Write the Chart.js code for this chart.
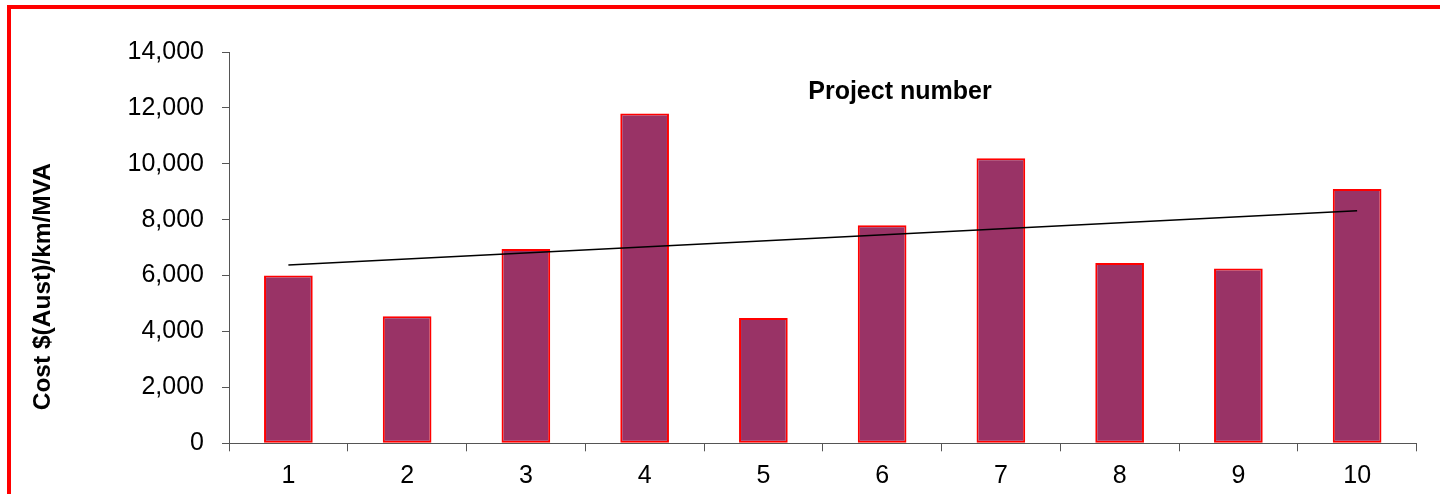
<!DOCTYPE html>
<html>
<head>
<meta charset="utf-8">
<title>Cost per project</title>
<script src="https://cdn.jsdelivr.net/npm/chart.js@4.4.1/dist/chart.umd.min.js"></script>
<style>
  html, body { margin: 0; padding: 0; background: #fff; width: 1440px; height: 494px; overflow: hidden; }
  #frame { position: absolute; left: 7px; top: 5px; width: 1500px; height: 600px; border: 4px solid #ff0000; box-sizing: border-box; }
  #wrap { position: absolute; left: 0; top: 0; width: 1440px; height: 494px; }
</style>
</head>
<body>
<div id="frame"></div>
<div id="wrap"><canvas id="c" width="1440" height="494"></canvas></div>
<script>
// Projects along the x axis
const projects = ['1', '2', '3', '4', '5', '6', '7', '8', '9', '10'];
// Cost $(Aust)/km/MVA for each project
const costPerKmMva = [6000, 4550, 6950, 11800, 4480, 7800, 10200, 6450, 6250, 9100];
// Linear trend line, drawn from project 1 to project 10
const trendLine = [6380, null, null, null, null, null, null, null, null, 8320];
// Value axis ticks
const yTicks = [0, 2000, 4000, 6000, 8000, 10000, 12000, 14000];

const chartTitle = 'Project number';
const yTitle = 'Cost $(Aust)/km/MVA';

const FONT = '"Liberation Sans", Arial, Helvetica, sans-serif';
Chart.defaults.font.family = FONT;
Chart.defaults.font.size = 25;
Chart.defaults.color = '#000';

// Title inside the plot and the rotated value-axis caption
const captions = {
  id: 'captions',
  afterDraw(chart) {
    const { ctx, chartArea: a } = chart;
    ctx.save();
    ctx.fillStyle = '#000';
    ctx.textAlign = 'center';
    ctx.textBaseline = 'alphabetic';
    ctx.font = 'bold 25px ' + FONT;
    ctx.fillText(chartTitle, a.left + (a.right - a.left) * 0.565, a.top + 47);
    ctx.translate(50, (a.top + a.bottom) / 2 + 39);
    ctx.rotate(-Math.PI / 2);
    ctx.font = 'bold 24.5px ' + FONT;
    ctx.fillText(yTitle, 0, 0);
    ctx.restore();
  }
};

new Chart(document.getElementById('c'), {
  type: 'bar',
  data: {
    labels: projects,
    datasets: [
      {
        type: 'line',
        data: trendLine,
        borderColor: '#000',
        borderWidth: 1.6,
        pointRadius: 0,
        spanGaps: true,
        fill: false,
        order: 0
      },
      {
        type: 'bar',
        data: costPerKmMva,
        backgroundColor: '#993366',
        borderColor: '#ff0000',
        borderWidth: 2,
        borderSkipped: false,
        categoryPercentage: 1,
        barPercentage: 0.41,
        order: 1
      }
    ]
  },
  options: {
    responsive: false,
    animation: false,
    events: [],
    layout: { padding: { left: 0, top: 52, right: 23.5, bottom: 0 } },
    plugins: {
      legend: { display: false },
      tooltip: { enabled: false },
      title: { display: false }
    },
    scales: {
      x: {
        grid: { offset: true, drawOnChartArea: false, drawTicks: true, tickLength: 8, color: '#555' },
        border: { display: true, color: '#555', width: 1 },
        ticks: { padding: 10, color: '#000', maxRotation: 0, autoSkip: false },
        afterFit(scale) { scale.height = 50.7; }
      },
      y: {
        min: yTicks[0],
        max: yTicks[yTicks.length - 1],
        grid: { drawOnChartArea: false, drawTicks: true, tickLength: 7, color: '#555' },
        border: { display: true, color: '#555', width: 1 },
        ticks: {
          stepSize: yTicks[1] - yTicks[0],
          padding: 18,
          color: '#000',
          callback: v => Number(v).toLocaleString('en-US')
        },
        afterFit(scale) { scale.width = 229; }
      }
    }
  },
  plugins: [captions]
});
</script>
</body>
</html>
